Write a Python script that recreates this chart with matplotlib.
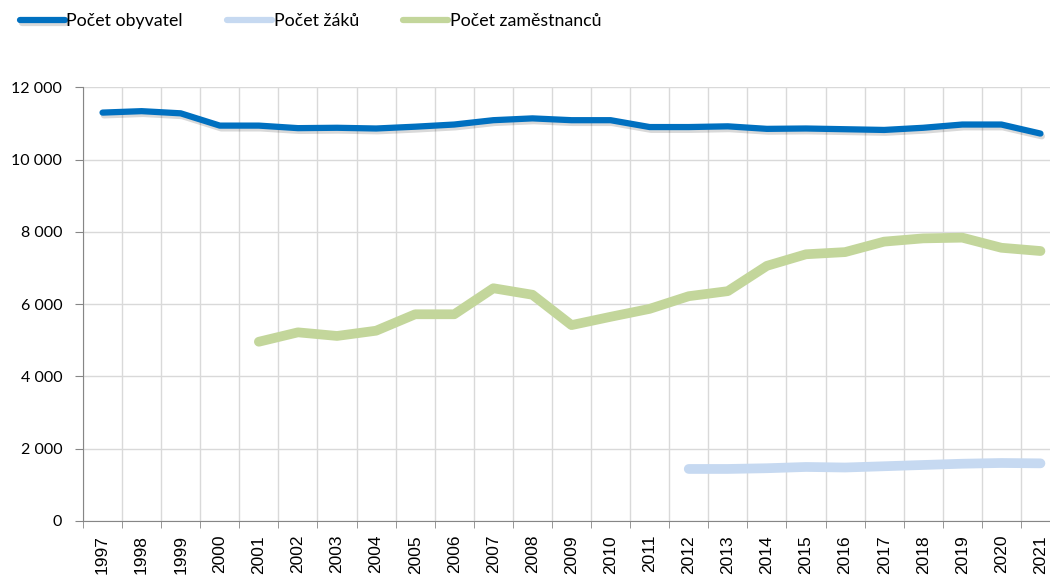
import numpy as np
import matplotlib
matplotlib.use('Agg')
import matplotlib.pyplot as plt
import matplotlib.patheffects as pe

plt.rcParams['font.family'] = ['Lato', 'DejaVu Sans']

years = [str(y) for y in range(1997, 2022)]

# Počet obyvatel 1997-2021
obyvatel = [11300, 11340, 11280, 10940, 10940, 10870, 10880, 10860, 10910, 10970,
            11090, 11140, 11090, 11090, 10900, 10900, 10920, 10850, 10860, 10840,
            10820, 10880, 10970, 10970, 10720]
# Počet žáků 2012-2021
zaci_years = years[15:]
zaci = [1440, 1440, 1460, 1495, 1480, 1515, 1550, 1585, 1605, 1595]
# Počet zaměstnanců 2001-2021
zam_years = years[4:]
zamestnanci = [4960, 5220, 5120, 5265, 5720, 5720, 6440, 6260, 5420, 5650,
               5870, 6220, 6360, 7060, 7380, 7440, 7730, 7820, 7840, 7560, 7470]

fig = plt.figure(figsize=(10.5, 5.78), dpi=100)
ax = fig.add_axes([83/1050, 1-521/578, 977/1050, (521-87.3)/578])

x = np.arange(len(years))
xz = np.arange(15, 25)
xm = np.arange(4, 25)

ax.plot(x, obyvatel, color='#0070C0', lw=4.5, solid_capstyle='round', solid_joinstyle='round',
        label='Počet obyvatel', zorder=4,
        path_effects=[pe.SimpleLineShadow(offset=(1, -2), alpha=0.15, shadow_color='black'), pe.Normal()])
ax.plot(xz, zaci, color='#C6D9F1', lw=7, solid_capstyle='round', solid_joinstyle='round',
        label='Počet žáků', zorder=3)
ax.plot(xm, zamestnanci, color='#C3D69B', lw=7, solid_capstyle='round', solid_joinstyle='round',
        label='Počet zaměstnanců', zorder=3)

ax.set_xlim(-0.5, len(years) - 0.5)
ax.set_ylim(0, 12000)
ax.set_yticks(np.arange(0, 12001, 2000))
ax.set_yticklabels(['{:,}'.format(v).replace(',', ' ') for v in range(0, 12001, 2000)], fontsize=11.5)
ax.set_xticks(x)
ax.set_xticklabels(years, rotation=90, fontsize=12.5, family='Liberation Sans')
ax.set_xticks(np.arange(-0.5, len(years), 1), minor=True)
ax.tick_params(axis='x', which='major', length=0, pad=10)
ax.tick_params(axis='x', which='minor', length=5, color='#868686')
ax.tick_params(axis='y', length=6, color='#868686', pad=9)

ax.grid(True, which='minor', axis='x', color='#D9D9D9', lw=1)
ax.grid(True, which='major', axis='y', color='#D9D9D9', lw=1)
ax.set_axisbelow(True)
for s in ['top', 'right']:
    ax.spines[s].set_visible(False)
for s in ['left', 'bottom']:
    ax.spines[s].set_color('#868686')

leg = fig.legend(loc='upper left', bbox_to_anchor=(0.004, 1.005), ncol=3, frameon=False,
                 fontsize=12.8, handlelength=2.5, handletextpad=0.1, columnspacing=2.5)
for h in leg.get_lines():
    h.set_linewidth(4.5)

fig.savefig('out.png', dpi=100)
